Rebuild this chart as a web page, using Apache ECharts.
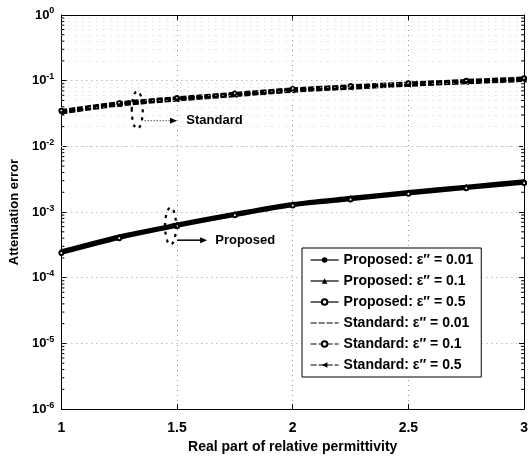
<!DOCTYPE html>
<html>
<head>
<meta charset="utf-8">
<script src="https://cdn.jsdelivr.net/npm/echarts@6/dist/echarts.min.js"></script>
<style>
  html, body { margin: 0; padding: 0; background: #fff; }
  #chart { width: 531px; height: 459px; }
</style>
</head>
<body>
<div id="chart"></div>
<script>
// Real part of relative permittivity (x samples)
const permittivity = [1, 1.25, 1.5, 1.75, 2, 2.25, 2.5, 2.75, 3];

// Attenuation error, proposed method
const proposed001 = [2.46e-4, 4.14e-4, 6.3e-4, 9.2e-4, 1.30e-3, 1.60e-3, 1.96e-3, 2.38e-3, 2.87e-3];
const proposed01  = [2.55e-4, 4.30e-4, 6.5e-4, 9.5e-4, 1.34e-3, 1.66e-3, 2.03e-3, 2.46e-3, 2.97e-3];
const proposed05  = [2.37e-4, 4.00e-4, 6.1e-4, 8.9e-4, 1.26e-3, 1.55e-3, 1.90e-3, 2.30e-3, 2.78e-3];

// Attenuation error, standard method
const standard001 = [0.0336, 0.0443, 0.0528, 0.0616, 0.0720, 0.0800, 0.0885, 0.0966, 0.105];
const standard01  = [0.0348, 0.0458, 0.0546, 0.0637, 0.0744, 0.0828, 0.0915, 0.1000, 0.109];
const standard05  = [0.0325, 0.0428, 0.0511, 0.0596, 0.0697, 0.0774, 0.0857, 0.0935, 0.1015];

const seriesNames = [
  'Proposed: ε″ = 0.01', 'Proposed: ε″ = 0.1', 'Proposed: ε″ = 0.5',
  'Standard: ε″ = 0.01', 'Standard: ε″ = 0.1', 'Standard: ε″ = 0.5'
];

// Callout positions in data units
const stdCallout = { x: 1.328, yTop: 0.069, yBottom: 0.0185, arrowY: 0.0246, arrowX0: 1.36, arrowX1: 1.50, textX: 1.54, text: 'Standard' };
const propCallout = { x: 1.472, yTop: 1.17e-3, yBottom: 3.2e-4, arrowY: 3.73e-4, arrowX0: 1.50, arrowX1: 1.63, textX: 1.665, text: 'Proposed' };

const FONT = 'Liberation Sans, Arial, Helvetica, sans-serif';

function pairs(ys) { return permittivity.map((x, i) => [x, ys[i]]); }

// Minor log grid lines (2..9 within each decade)
const minorGrid = [];
for (let k = -6; k < 0; k++) {
  for (let m = 2; m <= 9; m++) minorGrid.push({ yAxis: m * Math.pow(10, k) });
}

function lineSeries(name, ys, dashed, symbol, extra) {
  return Object.assign({
    name: name,
    type: 'line',
    data: pairs(ys),
    symbol: symbol,
    symbolSize: 4,
    showSymbol: symbol !== 'none',
    smooth: 0.3,
    lineStyle: { color: '#000', width: 3.5, type: dashed ? [6, 2] : 'solid' },
    itemStyle: { color: '#000', borderColor: '#000' },
    emphasis: { disabled: true },
    animation: false,
    z: 3
  }, extra || {});
}

const chart = echarts.init(document.getElementById('chart'), null, { renderer: 'canvas' });

const option = {
  backgroundColor: '#fff',
  animation: false,
  grid: { left: 56, right: 5, top: 15, bottom: 45, containLabel: false },
  legend: {
    orient: 'vertical',
    left: 302,
    top: 248,
    width: 181,
    padding: [5, 8, 5, 8],
    itemGap: 7,
    itemWidth: 28,
    itemHeight: 7,
    backgroundColor: '#fff',
    borderColor: '#000',
    borderWidth: 1,
    selectedMode: false,
    lineStyle: { width: 1.2 },
    textStyle: { fontFamily: FONT, fontSize: 14, fontWeight: 'bold', color: '#000' },
    data: [
      seriesNames[0], seriesNames[1], seriesNames[2],
      { name: seriesNames[3], itemStyle: { opacity: 0 } },
      seriesNames[4], seriesNames[5]
    ]
  },
  xAxis: [{
    type: 'value', min: 1, max: 3, interval: 0.5,
    name: 'Real part of relative permittivity',
    nameLocation: 'middle', nameGap: 27,
    nameTextStyle: { fontFamily: FONT, fontSize: 14, fontWeight: 'bold', color: '#000' },
    axisLine: { onZero: false, lineStyle: { color: '#000', width: 1 } },
    axisTick: { inside: true, length: 5, lineStyle: { color: '#000' } },
    axisLabel: { margin: 12, fontFamily: FONT, fontSize: 14, fontWeight: 'bold', color: '#000',
                 formatter: v => String(v) },
    splitLine: { show: true, lineStyle: { color: '#999', width: 1, type: [1, 4] } }
  }, {
    type: 'value', min: 1, max: 3, interval: 0.5, position: 'top',
    axisLine: { onZero: false, lineStyle: { color: '#000', width: 1 } },
    axisTick: { inside: true, length: 5, lineStyle: { color: '#000' } },
    axisLabel: { show: false }, splitLine: { show: false }
  }],
  yAxis: [{
    type: 'log', logBase: 10, min: 1e-6, max: 1, interval: 1,
    name: 'Attenuation error',
    nameLocation: 'middle', nameGap: 38,
    nameTextStyle: { fontFamily: FONT, fontSize: 13, fontWeight: 'bold', color: '#000' },
    axisLine: { onZero: false, lineStyle: { color: '#000', width: 1 } },
    axisTick: { inside: true, length: 5, lineStyle: { color: '#000' } },
    axisLabel: {
      margin: 7,
      formatter: v => '{b|10}{s|' + Math.round(Math.log10(v)) + '}',
      rich: {
        b: { fontFamily: FONT, fontSize: 13, fontWeight: 'bold', color: '#000' },
        s: { fontFamily: FONT, fontSize: 9, fontWeight: 'bold', color: '#000', padding: [0, 0, 8, 0] }
      }
    },
    splitLine: { show: true, lineStyle: { color: '#999', width: 1, type: [1, 4] } }
  }, {
    type: 'log', logBase: 10, min: 1e-6, max: 1, interval: 1, position: 'right',
    axisLine: { onZero: false, lineStyle: { color: '#000', width: 1 } },
    axisTick: { inside: true, length: 5, lineStyle: { color: '#000' } },
    axisLabel: { show: false }, splitLine: { show: false }
  }],
  series: [
    lineSeries(seriesNames[0], proposed001, false, 'circle', {
      markLine: {
        silent: true, symbol: 'none', animation: false,
        label: { show: false },
        lineStyle: { color: '#d0d0d0', width: 1, type: [1, 6] },
        emphasis: { disabled: true },
        data: minorGrid
      }
    }),
    lineSeries(seriesNames[1], proposed01, false, 'triangle'),
    lineSeries(seriesNames[2], proposed05, false, 'emptyCircle'),
    lineSeries(seriesNames[3], standard001, true, 'none'),
    lineSeries(seriesNames[4], standard01, true, 'emptyCircle'),
    lineSeries(seriesNames[5], standard05, true, 'triangle', { symbolRotate: 90 })
  ]
};

chart.setOption(option);

// Callouts, minor ticks: placed through the axes' own coordinate conversion
function px(x, y) { return chart.convertToPixel({ xAxisIndex: 0, yAxisIndex: 0 }, [x, y]); }

function callout(c, dashedArrow) {
  const top = px(c.x, c.yTop), bot = px(c.x, c.yBottom);
  const a0 = px(c.arrowX0, c.arrowY), a1 = px(c.arrowX1, c.arrowY), t = px(c.textX, c.arrowY);
  const cy = (top[1] + bot[1]) / 2, ry = (bot[1] - top[1]) / 2;
  return [
    { type: 'ellipse', shape: { cx: top[0], cy: cy, rx: 5.5, ry: ry }, silent: true, z: 10,
      style: { fill: 'none', stroke: '#000', lineWidth: 2.2, lineDash: [3, 5] } },
    { type: 'line', shape: { x1: a0[0], y1: a0[1], x2: a1[0] - 5, y2: a1[1] }, silent: true, z: 10,
      style: { stroke: '#000', lineWidth: dashedArrow ? 1 : 1.5, lineDash: dashedArrow ? [1, 2] : null } },
    { type: 'polygon', shape: { points: [[a1[0], a1[1]], [a1[0] - 7, a1[1] - 3], [a1[0] - 7, a1[1] + 3]] },
      silent: true, z: 10, style: { fill: '#000' } },
    { type: 'text', x: t[0], y: t[1], silent: true, z: 10,
      style: { text: c.text, fontFamily: FONT, fontSize: 13, fontWeight: 'bold', fill: '#000',
               verticalAlign: 'middle', align: 'left' } }
  ];
}

const extras = [].concat(callout(stdCallout, true), callout(propCallout, false));

// Minor ticks at 2..9 within each decade on both vertical axes
const leftX = px(1, 1)[0], rightX = px(3, 1)[0];
minorGrid.forEach(m => {
  const y = px(1, m.yAxis)[1];
  extras.push({ type: 'line', silent: true, z: 5, shape: { x1: leftX, y1: y, x2: leftX + 3, y2: y }, style: { stroke: '#000', lineWidth: 1 } });
  extras.push({ type: 'line', silent: true, z: 5, shape: { x1: rightX - 3, y1: y, x2: rightX, y2: y }, style: { stroke: '#000', lineWidth: 1 } });
});

chart.setOption({ graphic: { elements: extras } });
</script>
</body>
</html>
